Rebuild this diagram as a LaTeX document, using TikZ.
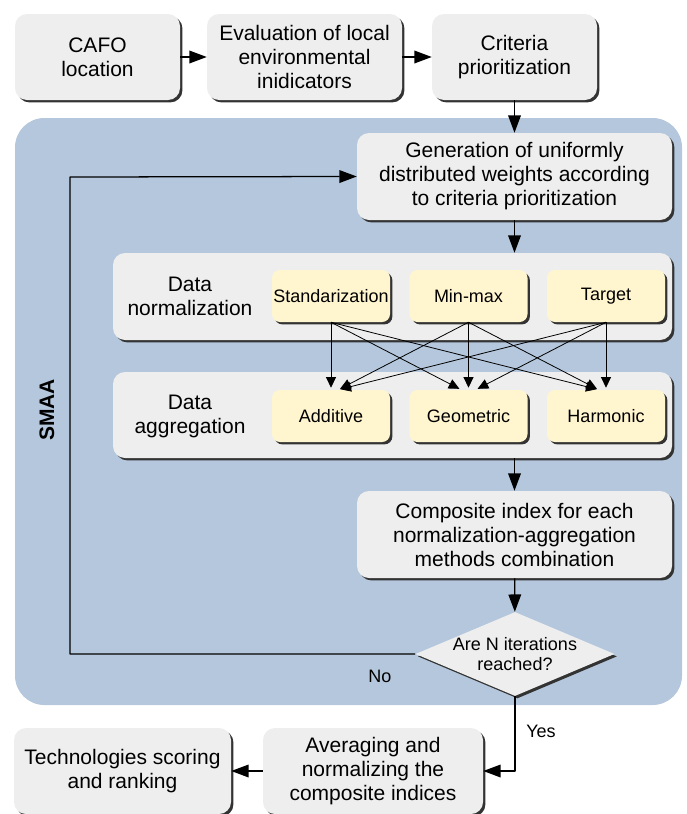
\documentclass[tikz,border=0pt]{standalone}
\usepackage{fontspec}
\setmainfont{Liberation Sans}
\usetikzlibrary{shapes.geometric,shadows,arrows.meta}
\definecolor{smaablue}{HTML}{B4C7DC}
\definecolor{boxgray}{HTML}{EEEEEE}
\definecolor{methyellow}{HTML}{FFF5CE}
\begin{document}
\begin{tikzpicture}[x=0.75pt, y=-0.75pt, line join=round, font=\fontsize{15.75}{18}\selectfont,
	>={Triangle[length=13pt,width=9.5pt]},
	shade/.style={drop shadow={shadow xshift=1.8pt,shadow yshift=-1.8pt,fill=black!80,opacity=1}},
	stepbox/.style 2 args={rounded corners=9pt, fill=boxgray, shade, align=center, inner sep=0pt,
		minimum width=#1*0.75pt, minimum height=#2*0.75pt},
	method/.style={rounded corners=6pt, fill=methyellow, shade, inner sep=0pt,
		minimum width=118*0.75pt, minimum height=52*0.75pt, font=\fontsize{13.5}{15}\selectfont},
	decision/.style={diamond, fill=boxgray, shade, inner sep=0pt,
		minimum width=199*0.75pt, minimum height=84*0.75pt},
	flow/.style={->, line width=0.95pt},
	cross/.style={->, line width=0.6pt, >={Triangle[length=8pt,width=7.5pt]}, shorten >=1.5pt},
	small/.style={font=\fontsize{13.5}{15}\selectfont}]
	\useasboundingbox (0,0) rectangle (686,814);
	% SMAA region
	\fill[smaablue, rounded corners=22pt] (15,118) rectangle (682,705);
	\node[rotate=90, font=\fontsize{15.75}{18}\selectfont\bfseries] (smaa) at (47,410) {SMAA};
	% first row
	\node[stepbox={165}{86}] (cafo) at (97.5,57) {CAFO\\location};
	\node[stepbox={195}{86}] (evalind) at (304.5,57) {Evaluation of local\\environmental\\inidicators};
	\node[stepbox={165}{86}] (prior) at (514.5,57) {Criteria\\prioritization};
	% inside SMAA
	\node[stepbox={315}{87}] (gen) at (514.5,176.5) {Generation of uniformly\\distributed weights according\\to criteria prioritization};
	\node[stepbox={559}{87}] (normband) at (392.5,296.5) {};
	\node[align=center] (normlabel) at (190,296) {Data\\normalization};
	\node[method] (stdz) at (331,296) {Standarization};
	\node[method] (minmax) at (468.5,296) {Min-max};
	\node[method] (target) at (606,296) {Target};
	\node[stepbox={559}{86}] (aggband) at (392.5,415) {};
	\node[align=center] (agglabel) at (190,416) {Data\\aggregation};
	\node[method] (additive) at (331,416) {Additive};
	\node[method] (geometric) at (468.5,416) {Geometric};
	\node[method] (harmonic) at (606,416) {Harmonic};
	\node[stepbox={315}{87}] (composite) at (514.5,534.5) {Composite index for each\\normalization-aggregation\\methods combination};
	\node[decision, label={[small, align=center]center:Are N iterations\\reached?}] (check) at (515,654) {};
	% last row
	\node[stepbox={220}{86}] (avg) at (373,771) {Averaging and\\normalizing the\\composite indices};
	\node[stepbox={217}{86}] (tech) at (122.5,771) {Technologies scoring\\and ranking};
	\coordinate (loop) at (70,177);
	% connectors
	\draw[flow] (cafo) -- (evalind);
	\draw[flow] (evalind) -- (prior);
	\draw[flow] (prior) -- (gen);
	\draw[flow] (gen.south) -- (gen.south |- normband.north);
	\foreach \s [count=\i] in {stdz,minmax,target}
		\foreach \t [count=\j] in {additive,geometric,harmonic}
			\draw[cross] (\s.south) -- ([xshift={5.5*sign(\i-\j)}]\t.north);
	\draw[flow] (composite.north |- aggband.south) -- (composite.north);
	\draw[flow] (composite) -- (check);
	\draw[flow] (check.west) -| (loop) -- (gen.west);
	\draw[flow] (check.south) |- (avg.east);
	\draw[flow] (avg) -- (tech);
	\node[small] (no) at (380,676) {No};
	\node[small] (yes) at (541,731) {Yes};
\end{tikzpicture}
\end{document}
